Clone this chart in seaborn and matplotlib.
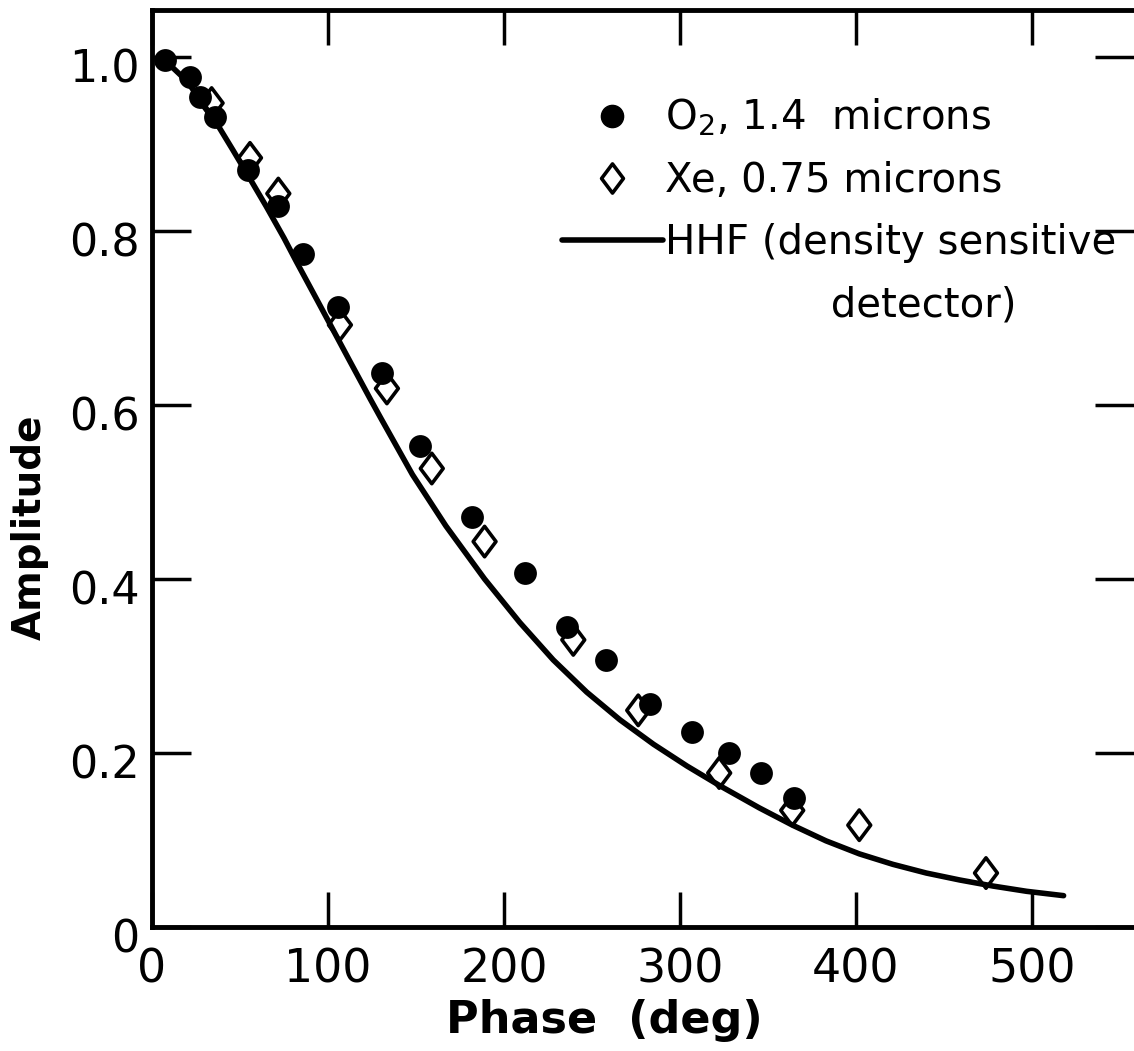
import matplotlib
matplotlib.use('Agg')
import matplotlib.pyplot as plt
from matplotlib.lines import Line2D
from matplotlib.path import Path
from matplotlib.transforms import ScaledTranslation
import seaborn as sns

# values
o2_phase = [7.4, 21.6, 27.3, 35.8, 54.7, 71.8, 86, 105.9, 130.5, 152.3, 181.7, 212,
            235.6, 258, 283, 306.6, 327.8, 346, 365]
o2_amp = [0.996, 0.977, 0.954, 0.931, 0.870, 0.829, 0.774, 0.713, 0.637, 0.553, 0.471,
          0.407, 0.345, 0.307, 0.256, 0.224, 0.200, 0.177, 0.148]

xe_phase = [33.9, 55.7, 71.8, 106.8, 133.5, 159, 189, 239.4, 276.3, 322.3, 363.8, 401.9, 473.9]
xe_amp = [0.947, 0.884, 0.843, 0.692, 0.619, 0.527, 0.443, 0.330, 0.249, 0.177, 0.134, 0.117, 0.062]

hhf_phase = [8, 20, 37, 46, 56, 65, 75, 82, 94, 103, 112, 124, 130, 148, 167, 189, 209,
             228, 247, 266, 285, 304, 323, 345, 364, 383, 402, 421, 440, 459, 478, 497, 518]
hhf_amp = [0.995, 0.972, 0.923, 0.893, 0.859, 0.828, 0.792, 0.765, 0.720, 0.686, 0.652,
           0.607, 0.585, 0.520, 0.461, 0.400, 0.350, 0.307, 0.270, 0.238, 0.210, 0.185,
           0.162, 0.137, 0.117, 0.099, 0.084, 0.072, 0.062, 0.054, 0.047, 0.041, 0.036]

x_ticks = [0, 100, 200, 300, 400, 500]
x_labels = ['0', '100', '200', '300', '400', '500']
y_ticks = [0, 0.2, 0.4, 0.6, 0.8, 1.0]
y_labels = ['0', '0.2', '0.4', '0.6', '0.8', '1.0']

sns.set_theme(style='white', rc={'axes.edgecolor': 'black', 'xtick.color': 'black',
                                 'ytick.color': 'black', 'text.color': 'black',
                                 'axes.labelcolor': 'black'})
plt.rcParams['font.family'] = ['DejaVu Sans']

# open diamond, a bit taller than wide
diamond = Path([(0, 1), (0.75, 0), (0, -1), (-0.75, 0), (0, 1)], closed=True)

fig = plt.figure(figsize=(11.34, 10.51), dpi=100)
ax = fig.add_axes([0.134, 0.118, 0.866, 0.8725])

sns.lineplot(x=hhf_phase, y=hhf_amp, color='black', linewidth=4, sort=False,
             estimator=None, ax=ax, zorder=2)
sns.scatterplot(x=xe_phase, y=xe_amp, marker=diamond, s=480, facecolor='none',
                edgecolor='black', linewidth=2.6, ax=ax, zorder=3)
sns.scatterplot(x=o2_phase, y=o2_amp, marker='o', s=270, color='black',
                edgecolor='black', linewidth=0, ax=ax, zorder=4)

ax.set_xlim(0, 558)
ax.set_ylim(0, 1.054)
ax.set_xticks(x_ticks, x_labels)
ax.set_yticks(y_ticks, y_labels)

for side in ['left', 'bottom', 'top']:
    ax.spines[side].set_linewidth(3.5)
ax.spines['right'].set_visible(False)

ax.tick_params(axis='x', direction='in', bottom=True, top=True, length=25, width=2.5,
               labelsize=33, pad=15)
ax.tick_params(axis='y', direction='in', left=True, right=True, length=28, width=2.5,
               labelsize=32, pad=9)
# y labels sit a little low in the original lettering
for lbl in ax.get_yticklabels():
    lbl.set_transform(lbl.get_transform() + ScaledTranslation(0, -6 / 72, fig.dpi_scale_trans))

ax.set_xlabel('Phase  (deg)', fontsize=32, fontweight='bold')
ax.set_ylabel('Amplitude', fontsize=28, fontweight='bold')
ax.xaxis.set_label_coords(0.461, -0.078)
ax.yaxis.set_label_coords(-0.105, 0.436)

handles = [
    Line2D([], [], marker='o', color='black', linestyle='None', markersize=16),
    Line2D([], [], marker=diamond, color='black', markerfacecolor='none', linestyle='None',
           markersize=21, markeredgewidth=2.6),
    Line2D([], [], color='black', linewidth=4),
    Line2D([], [], linestyle='None'),
]
labels = ['O$_2$, 1.4  microns', 'Xe, 0.75 microns', 'HHF (density sensitive',
          '             detector)']
ax.legend(handles, labels, loc='upper left', bbox_to_anchor=(0.4175, 0.905),
          frameon=False, fontsize=29, borderpad=0, borderaxespad=0,
          handlelength=2.5, handletextpad=0.05, labelspacing=0.55)

fig.savefig('out.png', dpi=100)
